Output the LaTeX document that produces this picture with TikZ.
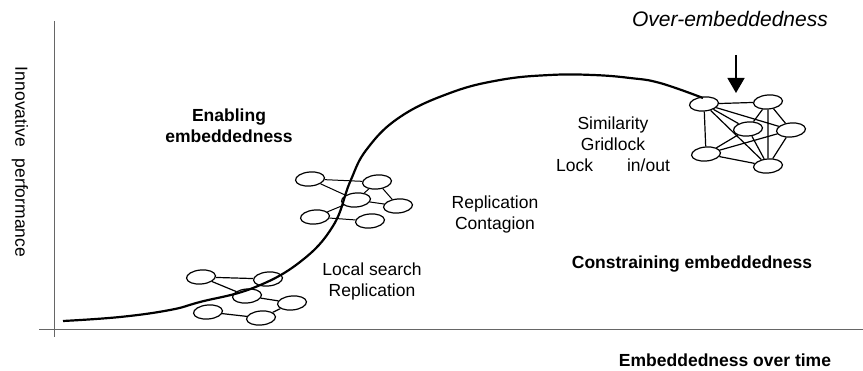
\documentclass[tikz,border=0pt]{standalone}
\usepackage{fontspec}
\setmainfont{Liberation Sans}
\usetikzlibrary{shapes.geometric, arrows.meta}

\begin{document}
\begin{tikzpicture}[x = 1pt, y = -1pt, line width = 1.2pt,
                        blob/.style = {ellipse, draw, minimum width = 29pt, minimum height = 14pt, inner sep = 0pt, rotate = 5},
                        axis/.style = {draw = black!60, line width = 1pt},
                        txt/.style = {align = center, inner sep = 0pt, font = \fontsize{17.5}{21}\selectfont},
                        hdr/.style = {txt, font = \fontsize{17.5}{21}\selectfont\bfseries}]
      \useasboundingbox (0, 0) rectangle (863, 371);
      % axes
      \coordinate (ytop) at (54, 21);
      \coordinate (ybot) at (54, 337);
      \coordinate (xleft) at (39, 330);
      \coordinate (xright) at (863, 330);
      \draw [axis] (ytop) -- (ybot);
      \draw [axis] (xleft) -- (xright);
      % first cluster
      \node [blob] (a1) at (201, 277){};
      \node [blob] (a2) at (268, 279){};
      \node [blob] (a3) at (247, 296){};
      \node [blob] (a4) at (292, 303){};
      \node [blob] (a5) at (208, 312){};
      \node [blob] (a6) at (261, 318){};
      \draw (a1) -- (a2);
      \draw (a1) -- (a3) -- (a4) -- (a6) -- (a5);
      % second cluster
      \node [blob] (b1) at (310, 179){};
      \node [blob] (b2) at (377, 182){};
      \node [blob] (b3) at (356, 200){};
      \node [blob] (b4) at (398, 206){};
      \node [blob] (b5) at (315, 217){};
      \node [blob] (b6) at (370, 221){};
      \draw [line width = 1pt] (b1) -- (b2) -- (b3) -- (b1);
      \draw [line width = 1pt] (b2) -- (b4) -- (b3) -- (b5) -- (b6);
      % third cluster
      \node [blob] (c1) at (704, 104){};
      \node [blob] (c2) at (768, 102){};
      \node [blob] (c3) at (748, 129){};
      \node [blob] (c4) at (791, 130){};
      \node [blob] (c5) at (706, 154){};
      \node [blob] (c6) at (768, 166){};
      \draw (c1) -- (c2) -- (c3) -- (c1) -- (c4) -- (c2) -- (c6) -- (c1) -- (c5);
      \draw (c3) -- (c5) -- (c4) -- (c6) -- (c5);
      \draw (c3) -- (c6);
      % s-curve
      \draw [line width = 2.2pt] plot [smooth, tension = 0.7] coordinates {(63, 321) (120, 317) (170, 310) (200, 302)
        (253, 288) (300, 262) (333, 226) (350, 182) (367, 149) (400, 117)
        (450, 93) (500, 80) (550, 75) (593, 75) (630, 78) (660, 83) (703, 98)};
      % arrow
      \coordinate (otop) at (736, 55);
      \coordinate (otip) at (736, 93);
      \draw [line width = 1.5pt, -{Triangle[width = 17pt, length = 15pt]}] (otop) -- (otip);
      % labels
      \node [txt, rotate = -90] (ylab) at (20, 162){Innovative\hspace{12pt}performance};
      \node [hdr] (enab) at (229, 126){Enabling\\embeddedness};
      \node [txt] (local) at (372, 281){Local search\\Replication};
      \node [txt] (repl) at (495, 214){Replication\\Contagion};
      \node [txt] (simil) at (613, 144){Similarity\\Gridlock\\Lock\hspace{34pt}in/out};
      \node [hdr] (constr) at (692, 264){Constraining embeddedness};
      \node [hdr] (xlab) at (725, 360){Embeddedness over time};
      \node [txt, font = \fontsize{21}{25}\selectfont\itshape] (over) at (730, 19){Over-embeddedness};
    \end{tikzpicture}
\end{document}
